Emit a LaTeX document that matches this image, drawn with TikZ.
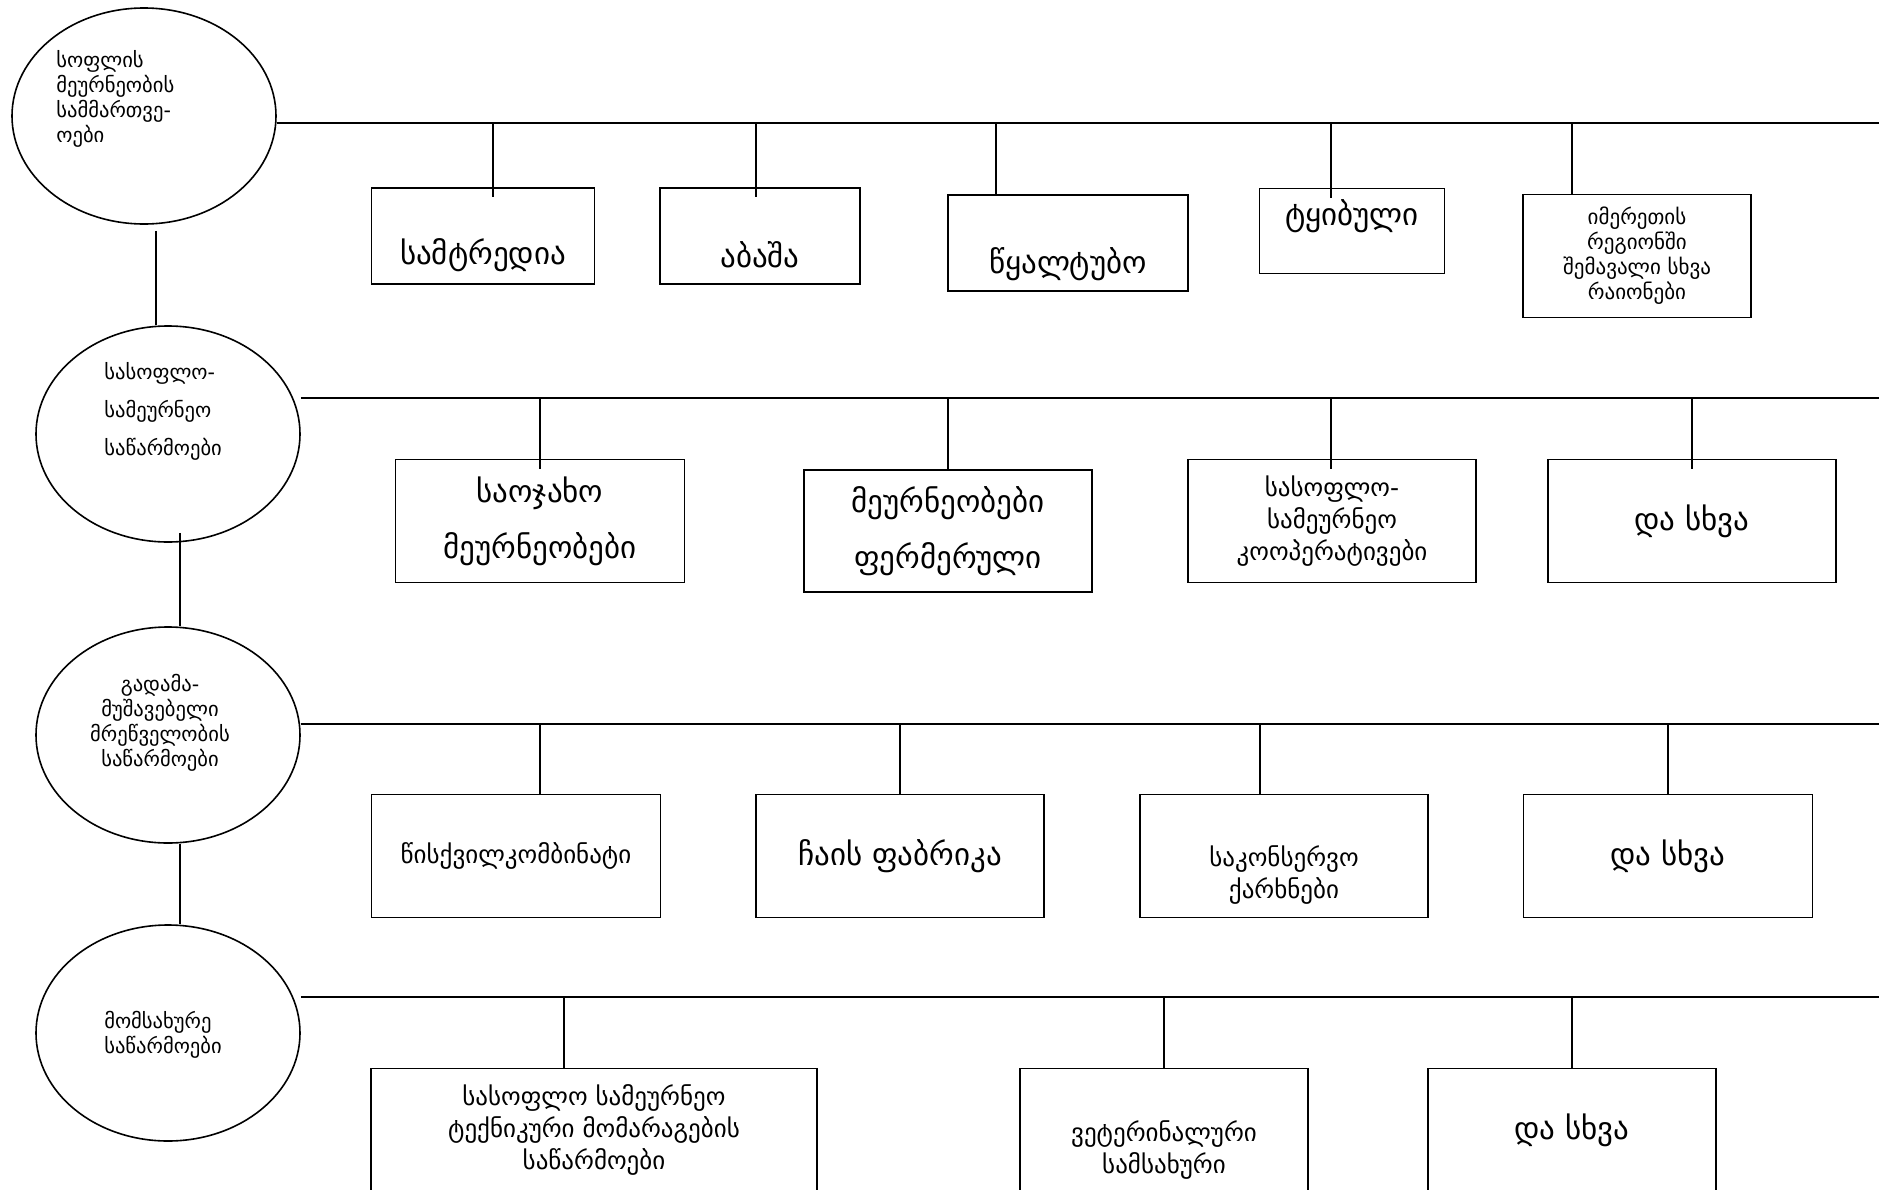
\documentclass[tikz,border=0pt]{standalone}
\usepackage{fontspec}
\setmainfont{DejaVu Sans}
\usetikzlibrary{shapes.geometric}

\tikzset{
	unit/.style={draw, ellipse, line width=0.8pt, minimum width=132pt, minimum height=108pt, inner sep=0pt},
	utext/.style={font=\fontsize{10.3}{12.5}\selectfont, inner sep=0pt},
	box/.style={draw, rectangle, line width=0.9pt, inner sep=0pt, align=center},
	big/.style={font=\fontsize{15.5}{28}\selectfont},
	mid/.style={font=\fontsize{12.5}{16}\selectfont},
	small/.style={font=\fontsize{10.5}{12.5}\selectfont},
	bus/.style={line width=1.1pt},
	tap/.style={line width=0.7pt},
}

\begin{document}
\begin{tikzpicture}[x=0.5pt, y=-0.5pt]
			%%%%% START %%%%%
			\useasboundingbox (0, 0) rectangle (1879, 1189);
			
			\node[unit] (e1) at (144, 116) {};
			\node[unit] (e2) at (168, 434) {};
			\node[unit] (e3) at (168, 735) {};
			\node[unit] (e4) at (168, 1033) {};
			
			\node[utext, anchor=west, align=left] (e1t) at (56, 99) {სოფლის\\მეურნეობის\\სამმართვე-\\ოები};
			\node[utext, anchor=west, align=left, font=\fontsize{10.3}{19}\selectfont] (e2t) at (104, 411) {სასოფლო-\\სამეურნეო\\საწარმოები};
			\node[utext, align=center] (e3t) at (160, 723) {გადამა-\\მუშავებელი\\მრეწველობის\\საწარმოები};
			\node[utext, align=left] (e4t) at (163, 1035) {მომსახურე\\საწარმოები};
			
			\draw[tap] ([xshift=6pt, yshift=-3pt]e1.south) -- ([xshift=-6pt]e2.north);
			\draw[tap] ([xshift=6pt, yshift=5pt]e2.south) -- ([xshift=6pt]e3.north);
			\draw[tap] ([xshift=6pt]e3.south) -- ([xshift=6pt]e4.north);
			
			% buses
			\coordinate (bus1) at (1879, 123);
			\coordinate (bus2) at (1879, 398);
			\coordinate (bus3) at (1879, 724);
			\coordinate (bus4) at (1879, 997);
			\draw[bus] (bus1 -| e1.east) -- (bus1);
			\draw[bus] (bus2 -| e2.east) -- (bus2);
			\draw[bus] (bus3 -| e3.east) -- (bus3);
			\draw[bus] (bus4 -| e4.east) -- (bus4);
			
			% row 1
			\node[box, minimum width=111.5pt, minimum height=48pt] (b11) at (483, 236) {};
			\node[big] (b11t) at (483, 255) {სამტრედია};
			\node[box, minimum width=100pt, minimum height=48pt] (b12) at (760, 236) {};
			\node[big] (b12t) at (760, 255) {აბაშა};
			\node[box, minimum width=120pt, minimum height=48pt] (b13) at (1068, 243) {};
			\node[big] (b13t) at (1068, 264) {წყალტუბო};
			\node[box, minimum width=92.5pt, minimum height=42.5pt] (b14) at (1352, 231) {};
			\node[big] (b14t) at (1352, 216) {ტყიბული};
			\node[box, small, minimum width=114pt, minimum height=61.5pt] (b15) at (1637, 256) {იმერეთის\\რეგიონში\\შემავალი სხვა\\რაიონები};
			
			% row 2
			\node[box, big, minimum width=144.5pt, minimum height=61.5pt] (b21) at (540, 521) {საოჯახო\\მეურნეობები};
			\node[box, big, minimum width=144pt, minimum height=61pt] (b22) at (948, 531) {მეურნეობები\\ფერმერული};
			\node[box, mid, minimum width=144pt, minimum height=61.5pt] (b23) at (1332, 521) {სასოფლო-\\სამეურნეო\\კოოპერატივები};
			\node[box, big, minimum width=144pt, minimum height=61.5pt] (b24) at (1692, 521) {და სხვა};
			
			% row 3
			\node[box, mid, minimum width=144.5pt, minimum height=61.5pt] (b31) at (516, 856) {წისქვილკომბინატი};
			\node[box, big, minimum width=144pt, minimum height=61.5pt] (b32) at (900, 856) {ჩაის ფაბრიკა};
			\node[box, minimum width=144pt, minimum height=61.5pt] (b33) at (1284, 856) {};
			\node[mid, align=center] (b33t) at (1284, 875) {საკონსერვო\\ქარხნები};
			\node[box, big, minimum width=144.5pt, minimum height=61.5pt] (b34) at (1668, 856) {და სხვა};
			
			% row 4
			\node[box, mid, minimum width=223pt, minimum height=61.5pt] (b41) at (594, 1130) {სასოფლო სამეურნეო\\ტექნიკური მომარაგების\\საწარმოები};
			\node[box, minimum width=144pt, minimum height=61.5pt] (b42) at (1164, 1130) {};
			\node[mid, align=center] (b42t) at (1164, 1150) {ვეტერინალური\\სამსახური};
			\node[box, big, minimum width=144pt, minimum height=61.5pt] (b43) at (1572, 1130) {და სხვა};
			
			% taps
			\foreach \b/\x/\y/\o in {b11/493/123/10, b12/756/123/10, b13/996/123/0, b14/1331/123/10, b15/1572/123/0,
					b21/540/398/10, b22/948/398/0, b23/1331/398/10, b24/1692/398/10,
					b31/540/724/0, b32/900/724/0, b33/1260/724/0, b34/1668/724/0,
					b41/564/997/0, b42/1164/997/0, b43/1572/997/0} {
				\coordinate (t\b) at (\x, \y);
				\draw[tap] (t\b) -- (t\b |- \b.north) -- ++(0, \o);
			}
			
			%%%%% END %%%%%
\end{tikzpicture}
\end{document}
